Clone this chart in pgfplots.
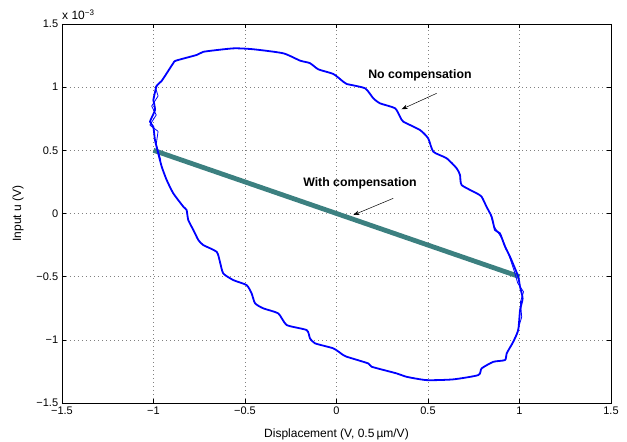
\documentclass[border=0pt]{standalone}
\usepackage{fontspec}
\setmainfont{Liberation Sans}
\usepackage{pgfplots}
\pgfplotsset{compat=1.18}
\usetikzlibrary{arrows.meta}
\definecolor{tealc}{RGB}{60,128,128}
\begin{document}
\fontsize{11}{13}\selectfont
\begin{tikzpicture}
\begin{axis}[name=ax, scale only axis, width=549pt, height=379pt,
  xmin=-1.5, xmax=1.5, ymin=-1.5, ymax=1.5,
  xtick={-1.5,-1,-0.5,0,0.5,1,1.5}, ytick={-1.5,-1,-0.5,0,0.5,1,1.5},
  xticklabels={−1.5,−1,−0.5,0,0.5,1,1.5},
  yticklabels={−1.5,−1,−0.5,0,0.5,1,1.5},
  tick label style={font=\fontsize{11}{13}\selectfont},
  tick align=inside, major tick length=4pt,
  grid=major, grid style={gray, dash pattern=on 0.8pt off 3.2pt, line width=0.6pt},
  axis line style={black, line width=0.9pt},
  tick style={black, line width=0.6pt},
  xlabel={Displacement (V, 0.5\,µm/V)}, ylabel={Input u (V)},
  label style={font=\fontsize{12}{14}\selectfont},
  xlabel style={at={(axis description cs:0.5,-0.0818)}, anchor=center},
  ylabel style={at={(axis description cs:-0.0801,0.5)}, anchor=center},
  clip=true,
]
\addplot[tealc, line width=4.8pt] coordinates {(-1,0.5) (1,-0.5)};
\addplot[blue, line width=1.8pt, line join=round, smooth, tension=0.35] coordinates {
(-1.001,0.898) (-0.983,1.01) (-0.955,1.05) (-0.892,1.19) (-0.877,1.21) (-0.764,1.255) (-0.728,1.28) (-0.564,1.307) (-0.455,1.30) (-0.291,1.268) (-0.199,1.21) (-0.145,1.19) (-0.099,1.141) (-0.017,1.104) (0.037,1.043) (0.056,1.025) (0.156,0.991) (0.201,0.912) (0.238,0.872) (0.320,0.833) (0.347,0.766) (0.365,0.727) (0.456,0.661) (0.501,0.595) (0.529,0.489) (0.602,0.437) (0.657,0.357) (0.675,0.304) (0.684,0.225) (0.766,0.160) (0.793,0.133) (0.820,0.053) (0.848,-0.026) (0.866,-0.131) (0.893,-0.157) (0.921,-0.263) (0.948,-0.342) (0.975,-0.434) (0.993,-0.50) (1.003,-0.58) (1.017,-0.672) (1.003,-0.765) (0.993,-0.923) (0.966,-1.015) (0.930,-1.107) (0.921,-1.160) (0.857,-1.174) (0.793,-1.226) (0.775,-1.279) (0.638,-1.313) (0.493,-1.319) (0.384,-1.293) (0.329,-1.266) (0.192,-1.213) (0.174,-1.187) (0.056,-1.134) (0.037,-1.121) (-0.017,-1.068) (-0.117,-1.028) (-0.145,-0.988) (-0.163,-0.923) (-0.272,-0.883) (-0.318,-0.791) (-0.400,-0.751) (-0.445,-0.711) (-0.464,-0.632) (-0.491,-0.567) (-0.564,-0.527) (-0.619,-0.474) (-0.637,-0.382) (-0.655,-0.303) (-0.728,-0.25) (-0.755,-0.210) (-0.782,-0.131) (-0.810,-0.052) (-0.819,0.027) (-0.837,0.054) (-0.892,0.160) (-0.928,0.265) (-0.955,0.370) (-0.974,0.476) (-0.992,0.582) (-1.001,0.687) (-1.019,0.727) (-0.992,0.819) (-1.001,0.898)};
\addplot[blue, line width=0.8pt, line join=round] coordinates {
(-0.96,0.42) (-0.985,0.55) (-0.975,0.65) (-1.02,0.70) (-0.985,0.78) (-1.01,0.85) (-0.975,0.93) (-0.99,1.00) (-0.96,1.04)};
\addplot[blue, line width=0.8pt, line join=round] coordinates {
(0.84,0.0) (0.86,-0.10) (0.905,-0.20) (0.935,-0.30) (0.97,-0.45) (0.99,-0.55) (1.022,-0.62) (1.005,-0.70) (1.012,-0.82) (0.985,-0.95) (0.955,-1.05)};
\node[font=\fontsize{12.3}{14}\selectfont\bfseries] at (axis cs:0.456,1.096) {No compensation};
\node[font=\fontsize{12.3}{14}\selectfont\bfseries] at (axis cs:0.128,0.239) {With compensation};
\draw[-{Stealth[length=6pt,width=4.5pt]}, line width=0.5pt] (axis cs:0.547,0.951) -- (axis cs:0.356,0.825);
\draw[-{Stealth[length=6pt,width=4.5pt]}, line width=0.5pt] (axis cs:0.310,0.120) -- (axis cs:0.092,-0.012);
\end{axis}
\node[anchor=base west, inner sep=0pt, font=\fontsize{12}{14}\selectfont] at ([yshift=4pt]ax.north west) {x 10\textsuperscript{−3}};
\pgfresetboundingbox
\path (ax.south west) ++(-62pt,-39pt) rectangle ([shift={(16pt,24pt)}]ax.north east);
\end{tikzpicture}
\end{document}
